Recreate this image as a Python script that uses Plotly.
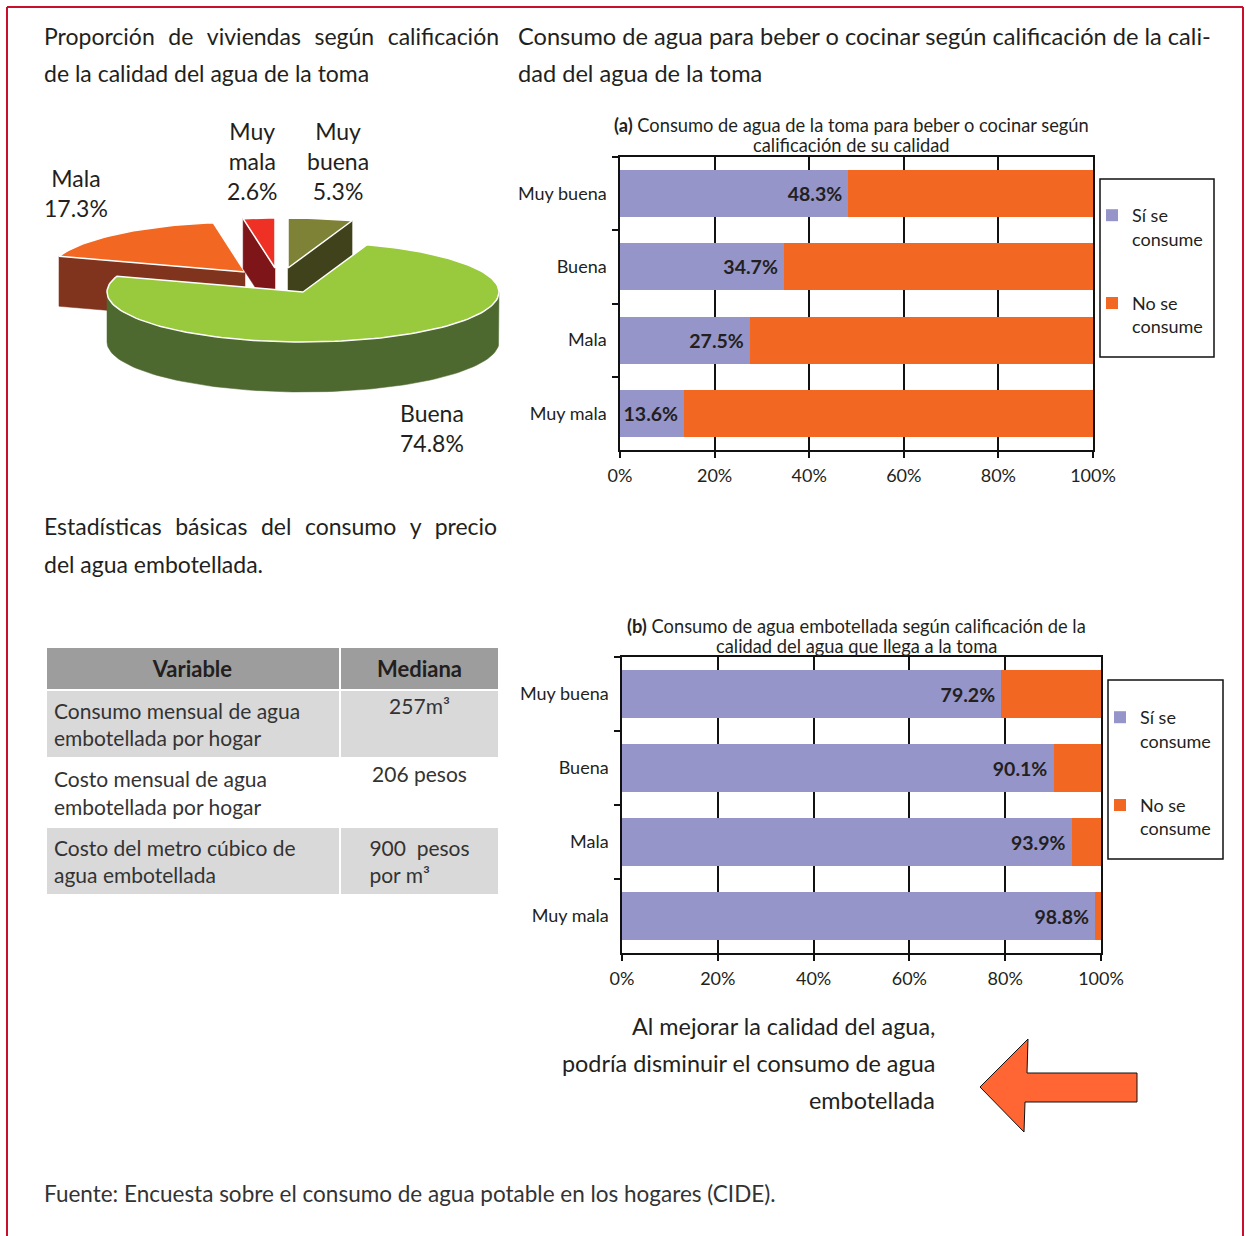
import math
import plotly.graph_objects as go

W, H = 1246, 1236
FONT = "Lato"
TXT = "#231F20"

# ---------------- data ----------------
pie_labels = ["Muy buena", "Buena", "Mala", "Muy mala"]
pie_values = [5.3, 74.8, 17.3, 2.6]

quality = ["Muy buena", "Buena", "Mala", "Muy mala"]
tap_yes = [48.3, 34.7, 27.5, 13.6]
tap_no = [51.7, 65.3, 72.5, 86.4]
bottled_yes = [79.2, 90.1, 93.9, 98.8]
bottled_no = [20.8, 9.9, 6.1, 1.2]

series_names = ["Sí se<br>consume", "No se<br>consume"]
x_ticks = [0, 20, 40, 60, 80, 100]

table_header = ["Variable", "Mediana"]
table_vars = ["Consumo mensual de agua<br>embotellada por hogar",
              "Costo mensual de agua<br>embotellada por hogar",
              "Costo del metro cúbico de<br>agua embotellada"]
table_medians = ["257m³", "206 pesos", "900  pesos<br>por m³"]

# ---------------- styles ----------------
C_YES = "#9595C9"
C_NO = "#F26722"
top_col = {"Buena": "#99C93C", "Mala": "#F26822", "Muy mala": "#EE3124", "Muy buena": "#7E8237"}
side_col = {"Buena": "#4E6930", "Mala": "#80341E", "Muy mala": "#7E1518", "Muy buena": "#40421C"}
explode = {"Buena": (0, 0), "Mala": (-58, -20), "Muy mala": (-28, -24), "Muy buena": (-15, -24)}
draw_order = ["Mala", "Muy mala", "Muy buena", "Buena"]
label_pos = {"Mala": (76, 193), "Muy mala": (252, 161), "Muy buena": (338, 161), "Buena": (432, 428)}
CX, CY, RX, RY, DEPTH = 303, 292, 196, 50, 50

fig = go.Figure()

# ---------------- 3D pie (geometry computed from the values) ----------------
angles = {}
hi = 90.0
for lab, v in zip(pie_labels, pie_values):
    lo = hi - v * 3.6
    angles[lab] = (lo, hi)
    hi = lo


def pt(th, ox, oy, dz=0.0):
    r = math.radians(th)
    return CX + ox + RX * math.cos(r), CY + oy - RY * math.sin(r) + dz


def arc(a, b, ox, oy, dz=0.0):
    n = max(2, int(abs(b - a) / 2) + 2)
    return [pt(a + (b - a) * i / (n - 1), ox, oy, dz) for i in range(n)]


def poly(points, fill, line_col, lw):
    xs = [p[0] for p in points] + [points[0][0]]
    ys = [p[1] for p in points] + [points[0][1]]
    fig.add_trace(go.Scatter(x=xs, y=ys, mode="lines", fill="toself", fillcolor=fill,
                             line=dict(color=line_col, width=lw), hoverinfo="skip",
                             showlegend=False, xaxis="x3", yaxis="y3"))


for lab in draw_order:
    lo, hi = angles[lab]
    ox, oy = explode[lab]
    apex = (CX + ox, CY + oy)
    apex_d = (CX + ox, CY + oy + DEPTH)
    for th, vis in ((lo, math.cos(math.radians(lo)) > 1e-6), (hi, math.cos(math.radians(hi)) < -1e-6)):
        if vis:
            poly([apex, pt(th, ox, oy), pt(th, ox, oy, DEPTH), apex_d], side_col[lab], side_col[lab], 0.5)
    for k in (-1, 0, 1):
        a = max(lo, -180 + 360 * k)
        b = min(hi, 360 * k)
        if a < b:
            poly(arc(a, b, ox, oy) + arc(b, a, ox, oy, DEPTH), side_col[lab], side_col[lab], 0.5)
    poly([apex] + arc(lo, hi, ox, oy), top_col[lab], "white", 1.5)

annotations = []
for lab, v in zip(pie_labels, pie_values):
    x, y = label_pos[lab]
    annotations.append(dict(x=x, y=y, xref="x3", yref="y3", showarrow=False,
                            text=lab.replace(" ", "<br>") + f"<br>{v:.1f}%",
                            font=dict(family=FONT, size=23, color=TXT),
                            xanchor="center", yanchor="middle"))

# ---------------- bar charts ----------------
for (yes, no, xa, ya, lg, tag) in ((tap_yes, tap_no, "x", "y", "legend", "a"),
                                   (bottled_yes, bottled_no, "x2", "y2", "legend2", "b")):
    fig.add_trace(go.Bar(y=quality, x=yes, orientation="h", name=series_names[0],
                         marker=dict(color=C_YES, line=dict(width=0)),
                         texttemplate="<b>%{x:.1f}%\u2006</b>", textposition="inside",
                         insidetextanchor="end", textangle=0,
                         textfont=dict(family=FONT, size=19.5, color=TXT),
                         xaxis=xa, yaxis=ya, legend=lg, legendgroup=tag + "yes",
                         hoverinfo="skip"))
    fig.add_trace(go.Bar(y=quality, x=no, orientation="h", name=series_names[1],
                         marker=dict(color=C_NO, line=dict(width=0)),
                         textposition="none",
                         xaxis=xa, yaxis=ya, legend=lg, legendgroup=tag + "no",
                         hoverinfo="skip"))


def px_x(v):
    return v / W


def px_y(v):
    return 1 - v / H


tickfont = dict(family=FONT, size=18, color=TXT)
xax = dict(range=[0, 100], tickmode="array", tickvals=x_ticks, ticktext=[f"{t}%" for t in x_ticks],
           showgrid=True, gridcolor="#111", gridwidth=1.5, showline=True, linecolor="#111",
           linewidth=1.5, mirror=True, ticks="outside", ticklen=6, tickcolor="#111", tickwidth=1.5,
           zeroline=False, tickfont=tickfont, fixedrange=True, ticklabelstandoff=3, automargin=False)
yax = dict(autorange="reversed", type="category", showline=True, linecolor="#111", linewidth=1.5,
           mirror=True, ticks="outside", tickson="boundaries", ticklen=6, tickcolor="#111",
           tickwidth=1.5, showgrid=False, tickfont=tickfont, fixedrange=True, ticklabelstandoff=8,
           automargin=False)

layout_axes = dict(
    xaxis=dict(xax, domain=[px_x(620), px_x(1093)], anchor="y"),
    yaxis=dict(yax, domain=[px_y(450), px_y(157)], anchor="x"),
    xaxis2=dict(xax, domain=[px_x(622), px_x(1101)], anchor="y2"),
    yaxis2=dict(yax, domain=[px_y(953), px_y(657)], anchor="x2"),
    xaxis3=dict(domain=[0, 1], range=[0, W], visible=False, fixedrange=True, anchor="y3", automargin=False),
    yaxis3=dict(domain=[0, 1], range=[H, 0], visible=False, fixedrange=True, anchor="x3", automargin=False),
)

legend_common = dict(xanchor="left", yanchor="top", bgcolor="rgba(0,0,0,0)", borderwidth=0,
                     font=dict(family=FONT, size=18, color=TXT), tracegroupgap=38,
                     traceorder="grouped", valign="top", itemclick=False, itemdoubleclick=False)

# ---------------- table ----------------
fig.add_trace(go.Table(
    domain=dict(x=[px_x(46), px_x(499)], y=[px_y(905), px_y(647)]),
    columnwidth=[294, 159],
    header=dict(values=[f"<b>{h}</b>" for h in table_header], fill_color="#9D9D9D",
                align="center", height=36, line=dict(color="white", width=2),
                font=dict(family=FONT, size=22, color=TXT)),
    cells=dict(values=[table_vars, table_medians],
               fill_color=[["#D9D9DA", "white", "#D9D9DA"]] * 2,
               align=["left", "center"], height=62, line=dict(color="white", width=2),
               font=dict(family=FONT, size=21, color="#333333"))))


# ---------------- texts ----------------
def text(x, y, s, size=23, anchor="left", color=TXT):
    annotations.append(dict(x=x, y=y, xref="x3", yref="y3", text=s, showarrow=False,
                            xanchor=anchor, yanchor="middle",
                            font=dict(family=FONT, size=size, color=color)))


text(42, 36, " \u2004".join("Proporción de viviendas según calificación".split(" ")))
text(42, 73, "de la calidad del agua de la toma")
text(516, 36, "Consumo de agua para beber o cocinar según calificación de la cali-", 23.6)
text(516, 73, "dad del agua de la toma", 23.6)
text(42, 526, " \u2004".join("Estadísticas básicas del consumo y precio".split(" ")))
text(42, 564, "del agua embotellada.")
text(851, 125, "<b>(a)</b> Consumo de agua de la toma para beber o cocinar según", 18.3, "center")
text(851, 145, "calificación de su calidad", 18.3, "center")
text(856, 626, "<b>(b)</b> Consumo de agua embotellada según calificación de la", 18.3, "center")
text(856, 646, "calidad del agua que llega a la toma", 18.3, "center")
text(937, 1026, "Al mejorar la calidad del agua,", 23.4, "right")
text(937, 1063, "podría disminuir el consumo de agua", 23.4, "right")
text(937, 1100, "embotellada", 23.4, "right")
text(42, 1193, "Fuente: Encuesta sobre el consumo de agua potable en los hogares (CIDE).", 22.5, "left", "#333333")

# ---------------- shapes ----------------
BORDER = "#C8102E"
shapes = [
    dict(type="line", xref="x3", yref="y3", x0=7, y0=7, x1=7, y1=H + 5, line=dict(color=BORDER, width=2)),
    dict(type="line", xref="x3", yref="y3", x0=7, y0=7, x1=1243, y1=7, line=dict(color=BORDER, width=2)),
    dict(type="line", xref="x3", yref="y3", x0=1243, y0=7, x1=1243, y1=H + 5, line=dict(color=BORDER, width=2)),
    dict(type="rect", xref="x3", yref="y3", x0=1100, y0=179, x1=1214, y1=357, line=dict(color="#111", width=1.5)),
    dict(type="rect", xref="x3", yref="y3", x0=1108, y0=680, x1=1223, y1=859, line=dict(color="#111", width=1.5)),
    dict(type="path", xref="x3", yref="y3",
         path="M 980 1087 L 1028 1039 L 1027 1073 L 1137 1073 L 1137 1102 L 1025 1102 L 1024 1132 Z",
         fillcolor="#FF6633", line=dict(color="#111", width=1)),
]

fig.update_layout(
    width=W, height=H, autosize=False,
    margin=dict(l=0, r=0, t=0, b=0, pad=0, autoexpand=False),
    paper_bgcolor="white", plot_bgcolor="rgba(0,0,0,0)",
    barmode="stack", bargap=0.36,
    uniformtext=dict(minsize=19.5, mode="show"),
    showlegend=True,
    legend=dict(legend_common, x=px_x(1092), y=px_y(197)),
    legend2=dict(legend_common, x=px_x(1100), y=px_y(699)),
    annotations=annotations, shapes=shapes,
    font=dict(family=FONT, color=TXT),
    **layout_axes,
)

POST = ("document.documentElement.style.margin='0';document.body.style.margin='0';"
        "document.documentElement.style.overflow='hidden';document.body.style.overflow='hidden';")

fig.write_html("out.html", include_plotlyjs=True, config={"displayModeBar": False},
               post_script=POST)
